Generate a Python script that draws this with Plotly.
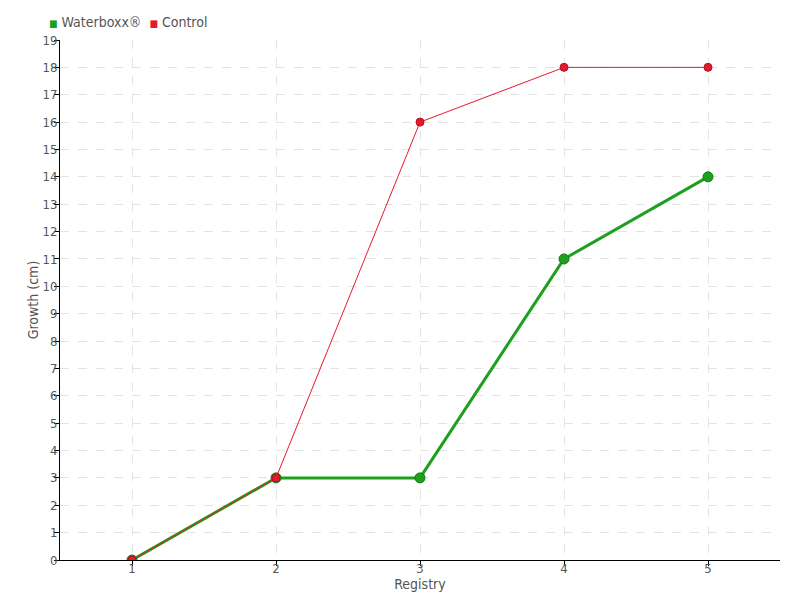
import plotly.graph_objects as go

registry = [1, 2, 3, 4, 5]
waterboxx = [0, 3, 3, 11, 14]
control = [0, 3, 16, 18, 18]
y_ticks = list(range(0, 20))
series_names = ["Waterboxx®", "Control"]

FONT = "DejaVu Sans Condensed, Liberation Sans Narrow, Roboto, sans-serif"
GREEN = "#1f9f1f"
RED = "#e8192c"
GRAY = "#555555"

fig = go.Figure()
fig.add_trace(go.Scatter(
    x=registry, y=waterboxx, mode="lines+markers", name=series_names[0],
    line=dict(color=GREEN, width=3),
    marker=dict(color=GREEN, size=10, line=dict(color="#157a15", width=1)),
))
fig.add_trace(go.Scatter(
    x=registry, y=control, mode="lines+markers", name=series_names[1],
    line=dict(color=RED, width=1),
    marker=dict(color=RED, size=8, line=dict(color="#b01020", width=1)),
))

# legend drawn as text labels with square glyphs
fig.add_annotation(
    xref="paper", yref="paper", x=-0.018, y=1.0 + 18 / 520, xanchor="left", yanchor="middle",
    showarrow=False,
    text=(f"<span style='color:{GREEN};font-size:10px'>■</span> {series_names[0]}  "
          f"<span style='color:{RED};font-size:10px'>■</span> {series_names[1]}"),
    font=dict(family=FONT, size=14, color=GRAY),
)

fig.update_layout(
    width=792, height=592,
    margin=dict(l=52, r=20, t=32, b=40, autoexpand=False),
    paper_bgcolor="white", plot_bgcolor="white",
    font=dict(family=FONT, size=14, color=GRAY),
    showlegend=False,
    xaxis=dict(
        range=[0.5, 5.5], tickvals=registry, ticktext=[str(v) for v in registry],
        showline=True, linecolor="black", linewidth=1,
        ticks="outside", ticklen=5, tickcolor="black",
        ticklabelstandoff=-9,
        showgrid=True, gridcolor="#e3e3e3", griddash="dash",
        zeroline=False, automargin=False,
        title=dict(text="Registry", standoff=0, font=dict(size=14, color=GRAY)),
        tickfont=dict(size=13, color=GRAY),
    ),
    yaxis=dict(
        range=[0, 19], tickvals=y_ticks,
        showline=True, linecolor="black", linewidth=1,
        ticks="outside", ticklen=5, tickcolor="black",
        ticklabelstandoff=-6,
        showgrid=True, gridcolor="#e3e3e3", griddash="dash",
        zeroline=False, automargin=False,
        title=dict(text="Growth (cm)", standoff=0, font=dict(size=14, color=GRAY)),
        tickfont=dict(size=13, color=GRAY),
    ),
)
fig.write_html("out.html")
